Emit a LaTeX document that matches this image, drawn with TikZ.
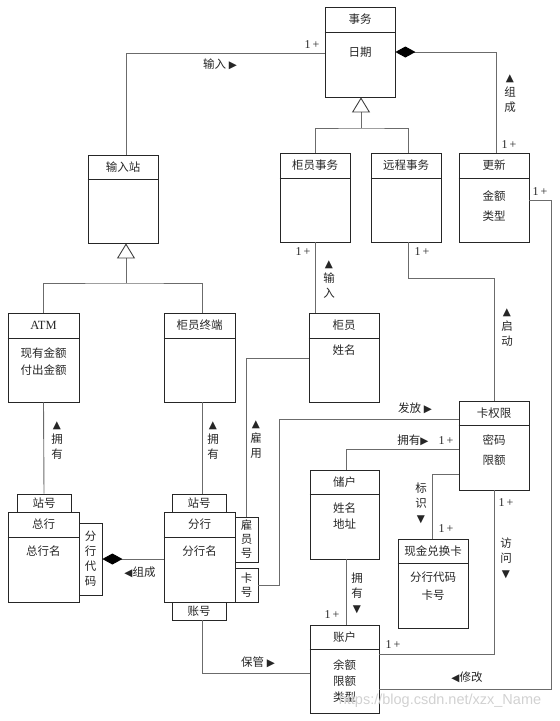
\documentclass[tikz,border=0pt]{standalone}
\usepackage{fontspec}
\setmainfont{Liberation Serif}
\newfontfamily\cjkf{Noto Sans CJK SC}
\newfontfamily\dvs{DejaVu Sans}
\newfontfamily\wmfont{Liberation Sans}
\usetikzlibrary{fit,arrows.meta}
\newcommand\triU{{\dvs\fontsize{10.5}{10.5}\selectfont ▲}}
\newcommand\triD{{\dvs\fontsize{10.5}{10.5}\selectfont ▼}}
\newcommand\triR{{\dvs\fontsize{10.5}{10.5}\selectfont ▶}}
\newcommand\triL{{\dvs\fontsize{10.5}{10.5}\selectfont ◀}}
\newcommand\umlcls[7]{%
  \node[cls, fit={(#2,#3) (#4,#5)}] (#1) {};
  \draw[clsline] (#1.west |- 0,#6) -- (#1.east |- 0,#6);
  \node[txt] (#1-t) at ({(#2+#4)/2},{(#3+#6)/2}) {#7};
}
\begin{document}
\begin{tikzpicture}[x=1pt,y=-1pt,
  cls/.style={draw=black!85, line width=0.8pt, inner sep=0pt},
  clsline/.style={draw=black!85, line width=0.8pt},
  conn/.style={draw=black!58, line width=0.9pt},
  txt/.style={font=\cjkf\fontsize{11.5}{14}\selectfont, inner sep=0pt, text=black!85},
  attr/.style={txt, align=center, font=\cjkf\fontsize{11.5}{#1}\selectfont},
  attr/.default=17,
  lab/.style={txt, align=center, font=\cjkf\fontsize{11.5}{#1}\selectfont},
  lab/.default=15,
  mult/.style={font=\rmfamily\fontsize{12}{12}\selectfont, inner sep=0pt, text=black!85},
  gen/.style={conn, -{Triangle[open, length=15pt, width=18pt, color=black!75]}},
  comp/.style={conn, {Diamond[length=20pt, width=11pt, color=black, fill=black]}-}]
\useasboundingbox (0,0) rectangle (560,721);

% classes
\umlcls{sw}{325}{7}{395}{97}{32}{事务}
\node[attr] (sw-a) at (360,52) {日期};
\umlcls{srz}{88}{155}{158}{243}{179}{输入站}
\umlcls{gyw}{280}{153}{350}{242}{178}{柜员事务}
\umlcls{ycw}{371}{153}{441}{242}{178}{远程事务}
\umlcls{gx}{459}{153}{529}{242}{178}{更新}
\node[attr=20] (gx-a) at (494,206) {金额\\类型};
\umlcls{atm}{8}{313}{79}{402}{338}{\rmfamily\fontsize{12.5}{12.5}\selectfont ATM}
\node[attr=17] (atm-a) at (43.5,361.5) {现有金额\\付出金额};
\umlcls{gyzd}{164}{313}{235}{402}{338}{柜员终端}
\umlcls{gy}{309}{313}{379}{402}{338}{柜员}
\node[attr] (gy-a) at (344,350) {姓名};
\umlcls{kqx}{459}{401}{529}{490}{425}{卡权限}
\node[attr=20] (kqx-a) at (494,450) {密码\\限额};
\umlcls{ch}{310}{470}{379}{559}{494}{储户}
\node[attr=16] (ch-a) at (344.5,516) {姓名\\地址};
\umlcls{xj}{398}{539}{468}{628}{563}{现金兑换卡}
\node[attr=18] (xj-a) at (433,586) {分行代码\\卡号};
\umlcls{zh}{310}{625}{379}{713}{649}{账户}
\node[attr=16] (zh-a) at (344.5,681) {余额\\限额\\类型};
\umlcls{zhh}{8}{512}{79}{602}{537}{总行}
\node[attr] (zhh-a) at (43.5,551) {总行名};
\umlcls{fh}{164}{512}{235}{602}{537}{分行}
\node[attr] (fh-a) at (199.5,551) {分行名};

% qualifiers
\node[cls, txt, minimum width=54, minimum height=18] (q-atm) at (44,503) {站号};
\node[cls, txt, minimum width=54, minimum height=18] (q-fh) at (199,503) {站号};
\node[cls, txt, minimum width=54, minimum height=18] (q-zh) at (199,611) {账号};
\node[cls, lab=15, minimum width=23, minimum height=72] (q-fhdm) at (90.5,559) {分\\行\\代\\码};
\node[cls, lab=14, minimum width=23, minimum height=45] (q-gyh) at (246.5,539.5) {雇\\员\\号};
\node[cls, lab=14, minimum width=23, minimum height=34] (q-kh) at (246.5,585) {卡\\号};

% 输入
\draw[conn] (srz.north -| 126,0) |- (sw.west |- 0,53);
\node[mult] (m1) at (312,45) {1\,+};
\node[txt] (l1) at (220,64) {输入 \triR};

% 组成 (事务-更新)
\draw[comp] (sw.east |- 0,52) -| (gx.north -| 496,0);
\node[lab] (l2) at (510,94) {\triU\\组\\成};
\node[mult] (m2) at (509,145) {1\,+};

% generalisation 事务
\coordinate (g1) at (361,128);
\draw[conn] (gyw.north) |- (g1) -| (ycw.north -| 408,0);
\draw[gen] (g1) -- (sw.south -| 361,0);

% generalisation 输入站
\coordinate (g2) at (126,283);
\draw[conn] (atm.north) |- (g2) -| (gyzd.north -| 202,0);
\draw[gen] (g2) -- (srz.south -| 126,0);

% 拥有 (ATM, 柜员终端)
\draw[conn] (atm.south) -- (q-atm.north);
\node[lab] (l3) at (57,441) {\triU\\拥\\有};
\draw[conn] (gyzd.south -| 202,0) -- (q-fh.north -| 202,0);
\node[lab] (l4) at (213,441) {\triU\\拥\\有};

% 输入 (柜员事务-柜员)
\draw[conn] (gyw.south) -- (gyw.south |- gy.north);
\node[mult] (m3) at (303,252) {1\,+};
\node[lab] (l5) at (329,280) {\triU\\输\\入};

% 启动
\draw[conn] (ycw.south -| 408,0) |- (kqx.north |- 0,278) -- (kqx.north);
\node[mult] (m4) at (422,252) {1\,+};
\node[lab] (l6) at (507,328) {\triU\\启\\动};

% 雇用
\draw[conn] (gy.west |- 0,358) -| (q-gyh.north);
\node[lab] (l7) at (256,440) {\triU\\雇\\用};

% 发放
\draw[conn] (q-kh.east) -| (279,419) -- (kqx.west |- 0,419);
\node[txt] (l8) at (415,408) {发放 \triR};

% 拥有 (储户-卡权限)
\draw[conn] (kqx.west |- 0,449) -| (ch.north -| 346,0);
\node[txt] (l9) at (413,440) {拥有\triR};
\node[mult] (m5) at (446,441) {1\,+};

% 标识
\draw[conn] (kqx.west |- 0,474) -| (xj.north -| 432,0);
\node[lab] (l10) at (421,503) {标\\识\\\triD};
\node[mult] (m6) at (446,529) {1\,+};

% 访问
\draw[conn] (kqx.south) |- (zh.east |- 0,654);
\node[mult] (m7) at (506,503) {1\,+};
\node[lab] (l11) at (506,558) {访\\问\\\triD};
\node[mult] (m8) at (393,645) {1\,+};

% 拥有 (储户-账户)
\draw[conn] (ch.south -| 346,0) -- (zh.north -| 346,0);
\node[lab] (l12) at (357,593) {拥\\有\\\triD};
\node[mult] (m9) at (332,615) {1\,+};

% 修改
\coordinate (cxg) at (551,689);
\draw[conn] (gx.east |- 0,200) -| (cxg) -- (zh.east |- cxg);
\node[mult] (m10) at (540,192) {1\,+};
\node[txt] (l13) at (467,677) {\triL 修改};

% 保管
\draw[conn] (q-zh.south -| 202,0) |- (zh.west |- 0,673);
\node[txt] (l14) at (258,662) {保管 \triR};

% 组成 (总行-分行)
\draw[comp] (q-fhdm.east |- 0,559) -- (fh.west |- 0,559);
\node[txt] (l15) at (140,572) {\triL 组成};

% watermark
\node[text=black!18, font=\wmfont\fontsize{14.5}{14.5}\selectfont, inner sep=0pt] (wmk) at (440,701) {https://blog.csdn.net/xzx\_Name};
\end{tikzpicture}
\end{document}
